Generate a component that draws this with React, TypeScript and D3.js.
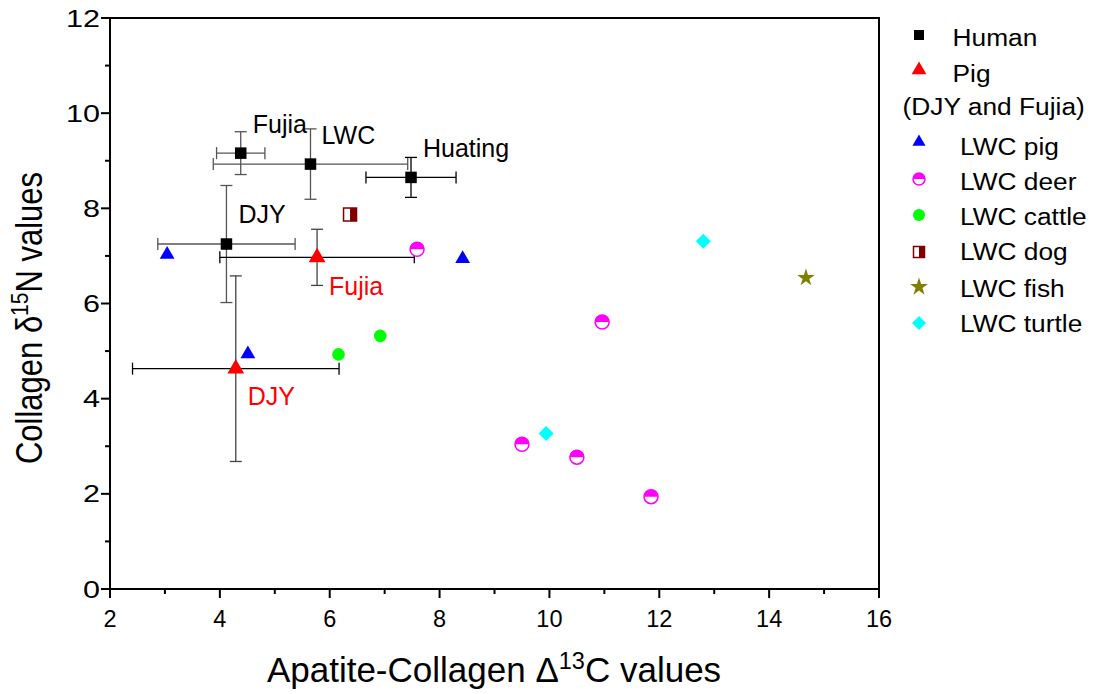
import React from "react";
import * as d3 from "d3";

const humanLabels = ["Fujia", "LWC", "Huating", "DJY"];
const humanX = [4.38, 5.65, 7.48, 4.12];
const humanY = [9.16, 8.93, 8.65, 7.25];
const humanXErr = [0.44, 1.77, 0.82, 1.25];
const humanYErr = [0.45, 0.74, 0.42, 1.23];

const pigLabels = ["Fujia", "DJY"];
const pigX = [5.77, 4.29];
const pigY = [6.97, 4.63];
const pigXErr = [1.77, 1.88];
const pigYErr = [0.59, 1.95];

const lwcPigX = [3.04, 8.42, 4.51];
const lwcPigY = [7.03, 6.94, 4.94];
const deerX = [7.59, 10.96, 9.5, 10.5, 11.85];
const deerY = [7.14, 5.61, 3.04, 2.77, 1.94];
const cattleX = [6.16, 6.92];
const cattleY = [4.93, 5.32];
const dogX = [6.37];
const dogY = [7.87];
const fishX = [14.67];
const fishY = [6.54];
const turtleX = [9.94, 12.8];
const turtleY = [3.27, 7.31];

const xTicks = [2, 4, 6, 8, 10, 12, 14, 16];
const yTicks = [0, 2, 4, 6, 8, 10, 12];
const legendItems = ["Human", "Pig", "(DJY and Fujia)", "LWC pig", "LWC deer", "LWC cattle", "LWC dog", "LWC fish", "LWC turtle"];

const FONT = "Arial, 'Liberation Sans', Helvetica, sans-serif";

function Square({ x, y, s }: { x: number; y: number; s: number }) {
  return <rect x={x - s / 2} y={y - s / 2} width={s} height={s} fill="#000" />;
}
function Tri({ x, y, s, color }: { x: number; y: number; s: number; color: string }) {
  const sym = d3.symbol().type(d3.symbolTriangle).size(s);
  return <path d={sym() as string} transform={`translate(${x},${y})`} fill={color} />;
}
function Deer({ x, y, r }: { x: number; y: number; r: number }) {
  return (
    <g transform={`translate(${x},${y})`}>
      <circle r={r} fill="#fff" stroke="#ff00ff" strokeWidth={1.5} />
      <path d={`M${-r},0 A${r},${r} 0 0 1 ${r},0 Z`} fill="#ff00ff" />
    </g>
  );
}
function Dog({ x, y, s }: { x: number; y: number; s: number }) {
  return (
    <g transform={`translate(${x},${y})`}>
      <rect x={-s / 2} y={-s / 2} width={s} height={s} fill="#fff" stroke="#800000" strokeWidth={1.5} />
      <rect x={0} y={-s / 2} width={s / 2} height={s} fill="#800000" />
    </g>
  );
}
function Star({ x, y, s }: { x: number; y: number; s: number }) {
  const sym = d3.symbol().type(d3.symbolStar).size(s);
  return <path d={sym() as string} transform={`translate(${x},${y})`} fill="#808000" />;
}
function Diamond({ x, y, h }: { x: number; y: number; h: number }) {
  return <path d={`M0,${-h}L${h},0L0,${h}L${-h},0Z`} transform={`translate(${x},${y})`} fill="#00ffff" />;
}

export default function App() {
  const W = 1097, H = 694;
  const left = 110, right = 879, top = 18, bottom = 589;
  const xs = d3.scaleLinear().domain([2, 16]).range([left, right]);
  const ys = d3.scaleLinear().domain([0, 12]).range([bottom, top]);
  const minorX = d3.range(2, 16.01, 1);
  const minorY = d3.range(0, 12.01, 1);

  const errBar = (x: number, y: number, ex: number, ey: number, key: string, colH: string, colV: string) => (
    <g key={key} strokeWidth={1.3} fill="none">
      <line x1={xs(x - ex)} x2={xs(x + ex)} y1={ys(y)} y2={ys(y)} stroke={colH} />
      <line x1={xs(x - ex)} x2={xs(x - ex)} y1={ys(y) - 6} y2={ys(y) + 6} stroke={colH} />
      <line x1={xs(x + ex)} x2={xs(x + ex)} y1={ys(y) - 6} y2={ys(y) + 6} stroke={colH} />
      <line x1={xs(x)} x2={xs(x)} y1={ys(y - ey)} y2={ys(y + ey)} stroke={colV} />
      <line x1={xs(x) - 6} x2={xs(x) + 6} y1={ys(y - ey)} y2={ys(y - ey)} stroke={colV} />
      <line x1={xs(x) - 6} x2={xs(x) + 6} y1={ys(y + ey)} y2={ys(y + ey)} stroke={colV} />
    </g>
  );

  const humanLabelPos = [
    { dx: 12, dy: -20 },
    { dx: 11, dy: -20 },
    { dx: 12, dy: -20 },
    { dx: 12, dy: -21 },
  ];
  const pigLabelPos = [
    { dx: 12, dy: 37.5 },
    { dx: 12, dy: 36 },
  ];

  const legMarkerY = [35, 70, 0, 142, 179, 215, 252, 287, 323];
  const legTextY = [46, 81.5, 115, 155, 190, 225, 260, 296.5, 331.5];
  const legMX = 919;

  return (
    <svg width={W} height={H} style={{ position: "absolute", left: 0, top: 0, fontFamily: FONT }}>
      <rect width={W} height={H} fill="#fff" />
      {/* frame */}
      <rect x={left} y={top} width={right - left} height={bottom - top} fill="none" stroke="#000" strokeWidth={2} />
      {/* ticks */}
      {minorX.map((v) => (
        <line key={"mx" + v} x1={xs(v)} x2={xs(v)} y1={bottom} y2={bottom + (v % 2 === 0 ? 9 : 5)} stroke="#000" strokeWidth={2} />
      ))}
      {minorY.map((v) => (
        <line key={"my" + v} x1={left} x2={left - (v % 2 === 0 ? 9 : 5)} y1={ys(v)} y2={ys(v)} stroke="#000" strokeWidth={2} />
      ))}
      {xTicks.map((v) => (
        <text key={"xt" + v} x={xs(v)} y={627} textAnchor="middle" fontSize={23.5} fill="#000">{v}</text>
      ))}
      {yTicks.map((v) => (
        <text key={"yt" + v} transform={`translate(${100},${ys(v) + 8.5}) scale(1.3,1)`} textAnchor="end" fontSize={23.5} fill="#000">{v}</text>
      ))}
      {/* axis titles */}
      <text x={494} y={682} textAnchor="middle" fontSize={35} fill="#000">
        Apatite-Collagen Δ<tspan dy={-13} fontSize={23.5}>13</tspan><tspan dy={13}>C values</tspan>
      </text>
      <text transform={`translate(42,${318}) scale(1.17,1) rotate(-90)`} textAnchor="middle" fontSize={31} fill="#000">
        Collagen δ<tspan dy={-12} fontSize={21}>15</tspan><tspan dy={12}>N values</tspan>
      </text>

      {/* error bars */}
      {humanX.map((x, i) => errBar(x, humanY[i], humanXErr[i], humanYErr[i], "he" + i, i === 2 ? "#000" : "#555", i === 2 ? "#000" : "#555"))}
      {pigX.map((x, i) => errBar(x, pigY[i], pigXErr[i], pigYErr[i], "pe" + i, "#000", "#444"))}

      {/* other points */}
      {lwcPigX.map((x, i) => <Tri key={"lp" + i} x={xs(x)} y={ys(lwcPigY[i])} s={95} color="#0000ff" />)}
      {deerX.map((x, i) => <Deer key={"de" + i} x={xs(x)} y={ys(deerY[i])} r={7} />)}
      {cattleX.map((x, i) => <circle key={"ca" + i} cx={xs(x)} cy={ys(cattleY[i])} r={6.3} fill="#00ff00" />)}
      {dogX.map((x, i) => <Dog key={"do" + i} x={xs(x)} y={ys(dogY[i])} s={13} />)}
      {fishX.map((x, i) => <Star key={"fi" + i} x={xs(x)} y={ys(fishY[i])} s={95} />)}
      {turtleX.map((x, i) => <Diamond key={"tu" + i} x={xs(x)} y={ys(turtleY[i])} h={7.5} />)}

      {/* human and pig */}
      {humanX.map((x, i) => <Square key={"h" + i} x={xs(x)} y={ys(humanY[i])} s={11.5} />)}
      {pigX.map((x, i) => <Tri key={"p" + i} x={xs(x)} y={ys(pigY[i])} s={122} color="#ff0000" />)}

      {humanX.map((x, i) => (
        <text key={"hl" + i} x={xs(x) + humanLabelPos[i].dx} y={ys(humanY[i]) + humanLabelPos[i].dy} fontSize={25} fill="#000">{humanLabels[i]}</text>
      ))}
      {pigX.map((x, i) => (
        <text key={"pl" + i} x={xs(x) + pigLabelPos[i].dx} y={ys(pigY[i]) + pigLabelPos[i].dy} fontSize={25} fill="#ff0000">{pigLabels[i]}</text>
      ))}

      {/* legend */}
      <g>
        <Square x={legMX} y={legMarkerY[0]} s={10} />
        <Tri x={legMX} y={legMarkerY[1]} s={95} color="#ff0000" />
        <Tri x={legMX} y={legMarkerY[3]} s={75} color="#0000ff" />
        <Deer x={legMX} y={legMarkerY[4]} r={6} />
        <circle cx={legMX} cy={legMarkerY[5]} r={6} fill="#00ff00" />
        <Dog x={legMX} y={legMarkerY[6]} s={11} />
        <Star x={legMX} y={legMarkerY[7]} s={100} />
        <Diamond x={legMX} y={legMarkerY[8]} h={7} />
        {legendItems.map((t, i) => (
          <text key={"lg" + i} transform={`translate(${i === 2 ? 902.5 : i < 2 ? 952.5 : 960},${legTextY[i]}) scale(1.12,1)`} fontSize={23.5} fill="#000">{t}</text>
        ))}
      </g>
    </svg>
  );
}
